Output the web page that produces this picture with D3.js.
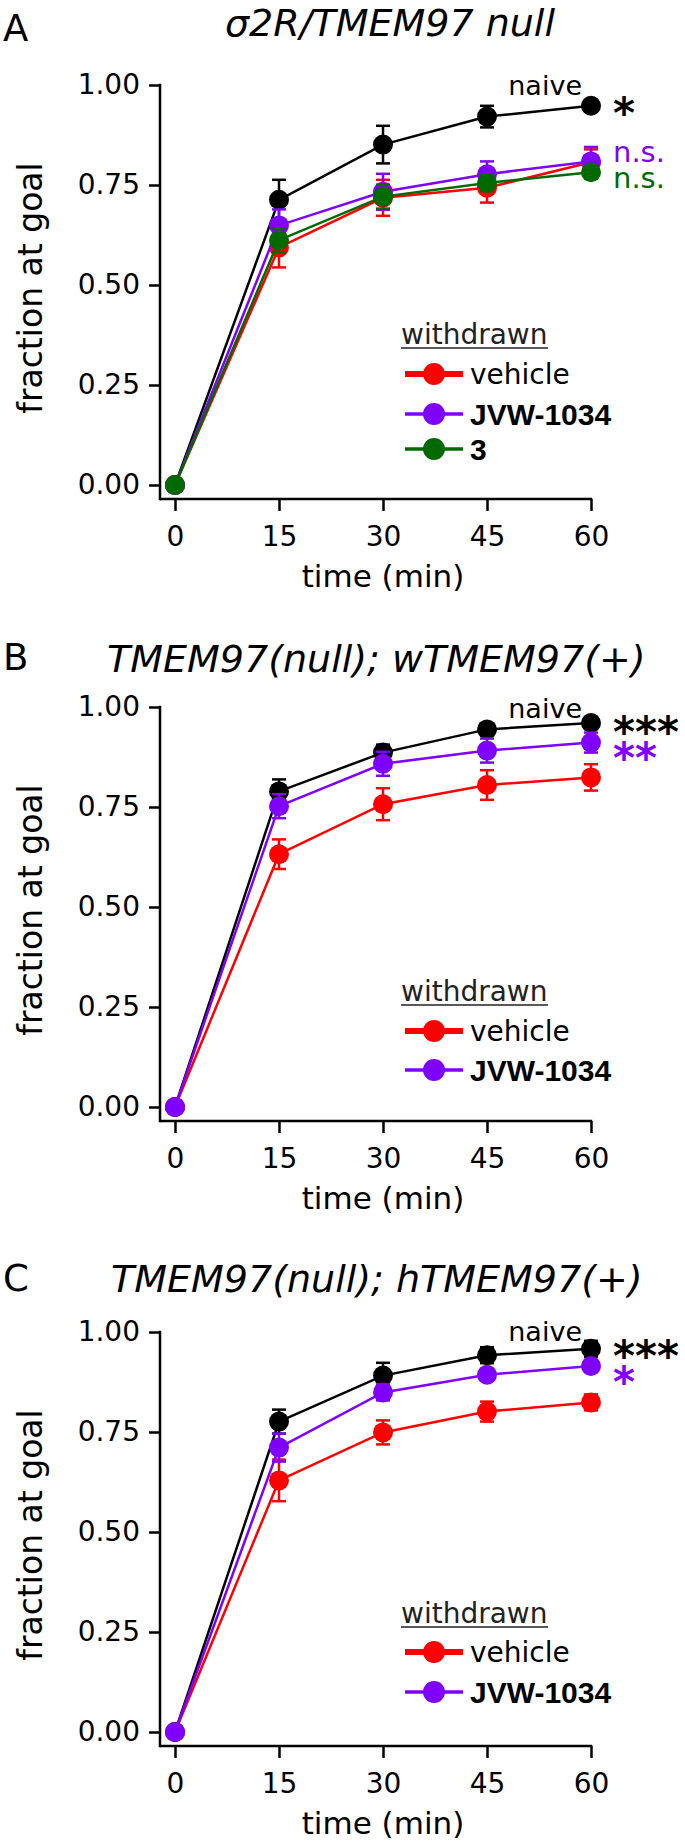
<!DOCTYPE html>
<html><head><meta charset="utf-8">
<script src="https://cdn.jsdelivr.net/npm/d3@7"></script>
<style>body{margin:0;background:#fff}svg{display:block}</style>
</head><body><svg id="c" width="685" height="1846"></svg>
<script>
// ---------- data ----------
const times = [0, 15, 30, 45, 60];
const xTicks = [0, 15, 30, 45, 60];
const yTicks = [0, 0.25, 0.5, 0.75, 1];
const panelLetters = ["A", "B", "C"];
const panelTitles = ["σ2R/TMEM97 null", "TMEM97(null); wTMEM97(+)", "TMEM97(null); hTMEM97(+)"];
const legendHeader = "withdrawn";
const xLabel = "time (min)";
const yLabel = "fraction at goal";
const naiveLabel = "naive";
const naiveLabelY = [0.975, 0.973, 0.978];

// Panel A
const naiveA = [0, 0.713, 0.851, 0.921, 0.948];
const naiveAErr = [0, 0.05, 0.047, 0.027, 0.01];
const vehicleA = [0, 0.594, 0.718, 0.743, 0.807];
const vehicleAErr = [0, 0.05, 0.045, 0.037, 0.032];
const jvwA = [0, 0.649, 0.733, 0.777, 0.809];
const jvwAErr = [0, 0.04, 0.045, 0.032, 0.036];
const cmpdA = [0, 0.612, 0.721, 0.755, 0.782];
const cmpdAErr = [0, 0.03, 0.03, 0.02, 0.015];
const sigA = ["*", "n.s.", "n.s."];
const sigAY = [0.95, 0.8075, 0.7425];

// Panel B
const naiveB = [0, 0.789, 0.886, 0.944, 0.96];
const naiveBErr = [0, 0.03, 0.02, 0.015, 0.015];
const vehicleB = [0, 0.632, 0.757, 0.805, 0.824];
const vehicleBErr = [0, 0.037, 0.04, 0.037, 0.033];
const jvwB = [0, 0.752, 0.858, 0.891, 0.911];
const jvwBErr = [0, 0.03, 0.03, 0.03, 0.025];
const sigB = ["***", "**"];
const sigBY = [0.957, 0.893];

// Panel C
const naiveC = [0, 0.776, 0.891, 0.942, 0.958];
const naiveCErr = [0, 0.03, 0.032, 0.02, 0.02];
const vehicleC = [0, 0.629, 0.749, 0.801, 0.824];
const vehicleCErr = [0, 0.052, 0.03, 0.025, 0.02];
const jvwC = [0, 0.711, 0.849, 0.893, 0.915];
const jvwCErr = [0, 0.035, 0.02, 0.015, 0.015];
const sigC = ["***", "*"];
const sigCY = [0.96, 0.895];

const seriesNames = ["naive", "vehicle", "JVW-1034", "3"];
const seriesColors = ["#000000", "#ff0000", "#7f00ff", "#006a00"];

// ---------- layout ----------
const FONT = "'DejaVu Sans', sans-serif";
const panels = [
  { top: 85, titleX: 225, titleY: 36, letterY: 41,
    series: [[naiveA, naiveAErr, 0], [vehicleA, vehicleAErr, 1], [jvwA, jvwAErr, 2], [cmpdA, cmpdAErr, 3]],
    sig: sigA, sigY: sigAY, sigColors: [0, 2, 3], legend: [1, 2, 3], legTop: 259, legRows: [289, 329, 364] },
  { top: 707, titleX: 107, titleY: 672, letterY: 670,
    series: [[naiveB, naiveBErr, 0], [vehicleB, vehicleBErr, 1], [jvwB, jvwBErr, 2]],
    sig: sigB, sigY: sigBY, sigColors: [0, 2], legend: [1, 2], legTop: 294, legRows: [324, 363] },
  { top: 1332, titleX: 111, titleY: 1292, letterY: 1291,
    series: [[naiveC, naiveCErr, 0], [vehicleC, vehicleCErr, 1], [jvwC, jvwCErr, 2]],
    sig: sigC, sigY: sigCY, sigColors: [0, 2], legend: [1, 2], legTop: 291, legRows: [320, 360] }
];

const svg = d3.select("#c");
svg.append("rect").attr("width", 685).attr("height", 1846).attr("fill", "#fff");

const x = d3.scaleLinear().domain([0, 60]).range([175, 591]);

panels.forEach((p, pi) => {
  const g = svg.append("g");
  const y = d3.scaleLinear().domain([0, 1]).range([p.top + 400, p.top]);
  const axisY = p.top + 414;

  // letter & title
  g.append("text").attr("x", 3).attr("y", p.letterY).text(panelLetters[pi])
    .attr("font-family", FONT).attr("font-size", 37).attr("fill", "#000");
  g.append("text").attr("x", p.titleX).attr("y", p.titleY).text(panelTitles[pi])
    .attr("font-family", FONT).attr("font-style", "italic").attr("font-size", 38).attr("fill", "#000");

  // y axis
  const ya = g.append("g").attr("transform", "translate(160,0)")
    .call(d3.axisLeft(y).tickValues(yTicks).tickFormat(d3.format(".2f")).tickSize(11).tickPadding(9));
  ya.select(".domain").remove();
  ya.selectAll(".tick line").attr("stroke", "#000").attr("stroke-width", 2.5);
  ya.selectAll(".tick text").attr("font-family", FONT).attr("font-size", 28).attr("fill", "#000");
  g.append("line").attr("x1", 160).attr("x2", 160).attr("y1", y(1) - 1.2).attr("y2", axisY + 1.2)
    .attr("stroke", "#000").attr("stroke-width", 2.5);

  // x axis
  const xa = g.append("g").attr("transform", `translate(0,${axisY})`)
    .call(d3.axisBottom(x).tickValues(xTicks).tickFormat(d3.format("d")).tickSize(12).tickPadding(15));
  xa.select(".domain").remove();
  xa.selectAll(".tick line").attr("stroke", "#000").attr("stroke-width", 2.5);
  xa.selectAll(".tick text").attr("font-family", FONT).attr("font-size", 28).attr("fill", "#000");
  g.append("line").attr("x1", 160).attr("x2", x(60) + 1.2).attr("y1", axisY).attr("y2", axisY)
    .attr("stroke", "#000").attr("stroke-width", 2.5);

  // axis labels
  g.append("text").attr("x", 383).attr("y", axisY + 88).attr("text-anchor", "middle").text(xLabel)
    .attr("font-family", FONT).attr("font-size", 31).attr("fill", "#000");
  g.append("text").attr("transform", `translate(42,${y(0.5) + 3}) rotate(-90)`).attr("text-anchor", "middle")
    .text(yLabel).attr("font-family", FONT).attr("font-size", 33).attr("fill", "#000");

  // series
  const line = d3.line().x((d, i) => x(times[i])).y(d => y(d));
  p.series.forEach(([vals, errs, ci]) => {
    const col = seriesColors[ci];
    const sg = g.append("g");
    sg.append("path").attr("d", line(vals)).attr("fill", "none").attr("stroke", col).attr("stroke-width", 2.5);
    vals.forEach((v, i) => {
      const e = errs[i];
      if (e > 0) {
        const cx = x(times[i]);
        sg.append("line").attr("x1", cx).attr("x2", cx).attr("y1", y(v - e)).attr("y2", y(v + e))
          .attr("stroke", col).attr("stroke-width", 2.5);
        [v - e, v + e].forEach(w => sg.append("line").attr("x1", cx - 7).attr("x2", cx + 7)
          .attr("y1", y(w)).attr("y2", y(w)).attr("stroke", col).attr("stroke-width", 2.5));
      }
    });
    sg.selectAll("circle").data(vals).join("circle")
      .attr("cx", (d, i) => x(times[i])).attr("cy", d => y(d)).attr("r", 10).attr("fill", col);
  });

  // naive label
  g.append("text").attr("x", 582).attr("y", y(naiveLabelY[pi]))
    .attr("text-anchor", "end").text(naiveLabel)
    .attr("font-family", FONT).attr("font-size", 27).attr("fill", "#000");

  // significance
  p.sig.forEach((s, k) => {
    const col = seriesColors[p.sigColors[k]];
    const isStar = s.indexOf("*") >= 0;
    const t = g.append("text").attr("x", 613).text(s).attr("fill", col).attr("font-family", FONT);
    if (isStar) {
      t.attr("y", y(p.sigY[k])).attr("dy", "0.55em").attr("font-size", 42).attr("font-weight", "bold");
    } else {
      t.attr("y", y(p.sigY[k])).attr("font-size", 29);
    }
  });

  // legend
  const lt = p.top + p.legTop;
  g.append("text").attr("x", 401).attr("y", lt).text(legendHeader)
    .attr("font-family", FONT).attr("font-size", 28).attr("fill", "#222");
  g.append("line").attr("x1", 401).attr("x2", 548).attr("y1", lt + 4).attr("y2", lt + 4)
    .attr("stroke", "#222").attr("stroke-width", 1.5);
  p.legend.forEach((ci, k) => {
    const ry = p.top + p.legRows[k];
    const col = seriesColors[ci];
    g.append("line").attr("x1", 405).attr("x2", 463).attr("y1", ry).attr("y2", ry)
      .attr("stroke", col).attr("stroke-width", ci === 1 ? 6 : 3.5);
    g.append("circle").attr("cx", 434).attr("cy", ry).attr("r", 11).attr("fill", col);
    const t = g.append("text").attr("x", 470).attr("y", ry).attr("dy", "0.36em").text(seriesNames[ci]).attr("fill", "#000");
    if (ci === 1) t.attr("font-family", FONT).attr("font-size", 28);
    else t.attr("font-family", "'Liberation Sans', Arial, sans-serif").attr("font-weight", "bold").attr("font-size", 30);
  });
});
</script></body></html>
